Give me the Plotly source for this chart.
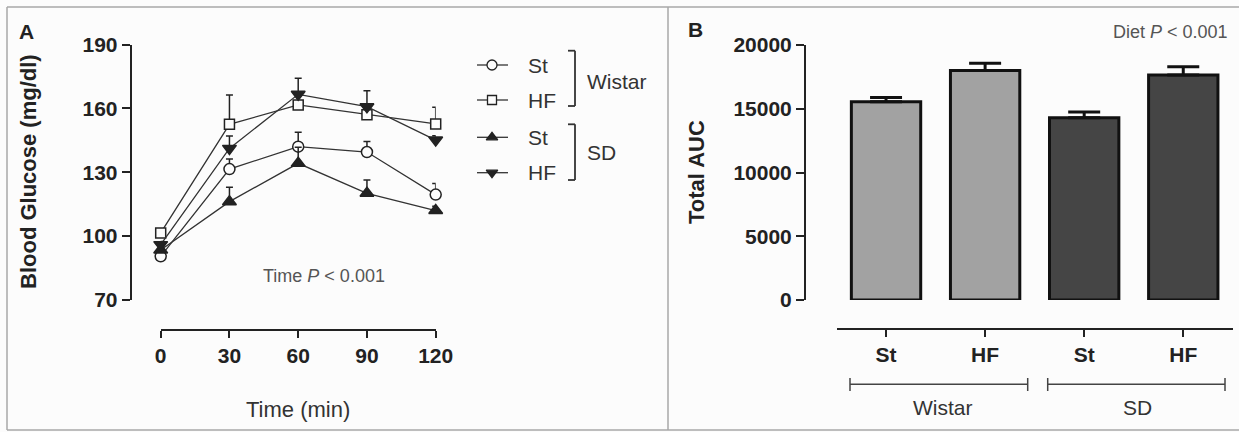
import plotly.graph_objects as go

# ---------------- data ----------------
time_min = [0, 30, 60, 90, 120]
wistar_st = [90.5, 131.5, 142, 139.5, 119.5]
wistar_st_sem = [1.5, 4.7, 6.8, 5.0, 5.2]
wistar_hf = [101.5, 152.5, 161.6, 157, 152.7]
wistar_hf_sem = [2.0, 13.8, 5.0, 5.0, 7.8]
sd_st = [93.5, 116.2, 134.2, 120.1, 112]
sd_st_sem = [1.5, 6.7, 7.5, 6.3, 2.0]
sd_hf = [96, 141.2, 166.6, 160.8, 145.1]
sd_hf_sem = [1.5, 5.8, 7.5, 7.5, 2.0]

y_ticks_a = [70, 100, 130, 160, 190]

bar_diet = ["St", "HF", "St", "HF"]
bar_strain = ["Wistar", "Wistar", "SD", "SD"]
auc_mean = [15550, 18000, 14300, 17650]
auc_sem = [330, 560, 450, 650]
y_ticks_b = [0, 5000, 10000, 15000, 20000]

# ---------------- helpers ----------------
W, H = 1239, 432
def px(x):
    return x / W
def py(y):
    return 1 - y / H

FONT = "Liberation Sans, Arial, sans-serif"
INK = "#222222"
BG = "#fcfcfc"

fig = go.Figure()

# ---------------- panel A ----------------
series = [
    ("Wistar St", wistar_st, wistar_st_sem, "circle", BG),
    ("SD St", sd_st, sd_st_sem, "triangle-up", INK),
    ("Wistar HF", wistar_hf, wistar_hf_sem, "square", BG),
    ("SD HF", sd_hf, sd_hf_sem, "triangle-down", INK),
]
for name, vals, sem, sym, fill in series:
    size = {"circle": 11, "square": 10}.get(sym, 12)
    fig.add_trace(go.Scatter(
        x=time_min, y=vals, name=name, mode="lines+markers",
        line=dict(color="#333333", width=1.3),
        marker=dict(symbol=sym, size=size, color=fill,
                    line=dict(color=INK, width=1.5)),
        error_y=dict(type="data", symmetric=False, array=sem,
                     arrayminus=[0] * len(sem), color=INK,
                     thickness=1.5, width=3.5),
        cliponaxis=False, showlegend=False,
        xaxis="x", yaxis="y",
    ))

# ---------------- panel B ----------------
bar_colors = ["#a2a2a2" if s == "Wistar" else "#454545" for s in bar_strain]
fig.add_trace(go.Bar(
    x=list(range(len(auc_mean))), y=auc_mean, width=0.70,
    marker=dict(color=bar_colors, line=dict(color="#111111", width=3)),
    error_y=dict(type="data", symmetric=False, array=auc_sem,
                 arrayminus=[0] * len(auc_sem), color="#111111",
                 thickness=3, width=16),
    showlegend=False, xaxis="x2", yaxis="y2", cliponaxis=False,
))

# ---------------- custom legend (panel A) ----------------
legend_rows = [("St", "circle", BG, 65), ("HF", "square", BG, 100),
               ("St", "triangle-up", INK, 137.3), ("HF", "triangle-down", INK, 172.7)]
for lab, sym, fill, yrow in legend_rows:
    fig.add_trace(go.Scatter(
        x=[477, 508], y=[yrow, yrow], mode="lines",
        line=dict(color="#333333", width=1.3),
        showlegend=False, xaxis="x3", yaxis="y3", hoverinfo="skip"))
    fig.add_trace(go.Scatter(
        x=[492], y=[yrow], mode="markers",
        marker=dict(symbol=sym, size=9 if sym == "square" else 10, color=fill,
                    line=dict(color=INK, width=1.3)),
        showlegend=False, xaxis="x3", yaxis="y3", hoverinfo="skip"))

axis_common = dict(showgrid=False, zeroline=False, showline=True,
                   linecolor=INK, linewidth=2, ticks="outside",
                   tickwidth=2, tickcolor=INK,
                   tickfont=dict(family=FONT, size=21, color=INK, weight="bold"))

fig.update_layout(
    width=W, height=H,
    margin=dict(l=0, r=0, t=0, b=0, autoexpand=False),
    paper_bgcolor=BG, plot_bgcolor="rgba(0,0,0,0)",
    font=dict(family=FONT, color=INK),
    xaxis=dict(domain=[px(160.7), px(435.7)], range=[0, 120],
               tickvals=time_min, anchor="free", position=py(330),
               automargin=False, ticklen=7, **axis_common),
    yaxis=dict(domain=[py(300), py(44.5)], range=[70, 190],
               tickvals=y_ticks_a, anchor="free", position=px(130.7),
               automargin=False, ticklen=8, **axis_common),
    xaxis2=dict(domain=[px(836.5), px(1232.8)], range=[-0.5, 3.5],
                tickvals=list(range(len(bar_diet))), ticktext=bar_diet,
                anchor="free", position=py(329), automargin=False,
                ticklen=7, **axis_common),
    yaxis2=dict(domain=[py(300), py(45)], range=[0, 20000],
                tickvals=y_ticks_b, ticktext=[str(v) for v in y_ticks_b],
                anchor="free", position=px(805), automargin=False,
                ticklen=8, **axis_common),
    xaxis3=dict(domain=[0, 1], range=[0, W], visible=False, fixedrange=True),
    yaxis3=dict(domain=[0, 1], range=[H, 0], visible=False, fixedrange=True,
                anchor="x3"),
)

# ---------------- annotations ----------------
def ann(text, x, y, size, color=INK, weight="normal", xanchor="center",
        yanchor="middle", angle=0):
    fig.add_annotation(text=text, x=px(x), y=py(y), xref="paper", yref="paper",
                       showarrow=False, xanchor=xanchor, yanchor=yanchor,
                       textangle=angle,
                       font=dict(family=FONT, size=size, color=color,
                                 weight=weight))

ann("A", 26, 31, 21, weight="bold")
ann("B", 695, 29, 21, weight="bold")
ann("Blood Glucose (mg/dl)", 28, 172, 22, weight="bold", angle=-90)
ann("Total AUC", 696, 172, 22, weight="bold", angle=-90)
ann("Time (min)", 298, 409, 22, color="#333333")
ann("Time <i>P</i> < 0.001", 324, 276, 18, color="#555555")
ann("Diet <i>P</i> < 0.001", 1230, 32, 18, color="#555555", xanchor="right")

# legend texts
for lab, sym, fill, yrow in legend_rows:
    ann(lab, 525.7, yrow, 21, color="#333333", xanchor="left")
ann("Wistar", 585, 81.7, 21, color="#333333", xanchor="left")
ann("SD", 585, 152, 21, color="#333333", xanchor="left")

# group labels panel B
ann("Wistar", 943, 407, 21, color="#333333")
ann("SD", 1137, 407, 21, color="#333333")

# ---------------- shapes ----------------
def line(x0, y0, x1, y1, color="#444444", width=1.5):
    fig.add_shape(type="line", x0=px(x0), y0=py(y0), x1=px(x1), y1=py(y1),
                  xref="paper", yref="paper",
                  line=dict(color=color, width=width))

# frame
FR = "#a8a8a8"
line(7, 7, W, 7, FR, 1.5)
line(7, 7, 7, 430, FR, 1.5)
line(7, 430, W, 430, FR, 1.5)
line(668, 7, 668, 430, FR, 1.5)

# legend brackets
for top, bot in [(50.7, 106), (124.3, 180)]:
    line(575, top, 575, bot, "#333333", 1.8)
    line(568, top, 575, top, "#333333", 1.8)
    line(568, bot, 575, bot, "#333333", 1.8)

# group brackets panel B
for x0, x1 in [(850, 1027.7), (1047.7, 1225)]:
    line(x0, 384.3, x1, 384.3, "#444444", 1.5)
    line(x0, 378, x0, 391, "#444444", 1.5)
    line(x1, 378, x1, 391, "#444444", 1.5)

fig.write_html(
    "out.html",
    config={"displayModeBar": False, "staticPlot": True},
    post_script="document.body.style.margin='0px';"
                "document.body.style.overflow='hidden';"
                "document.body.style.background='%s';" % BG,
)
